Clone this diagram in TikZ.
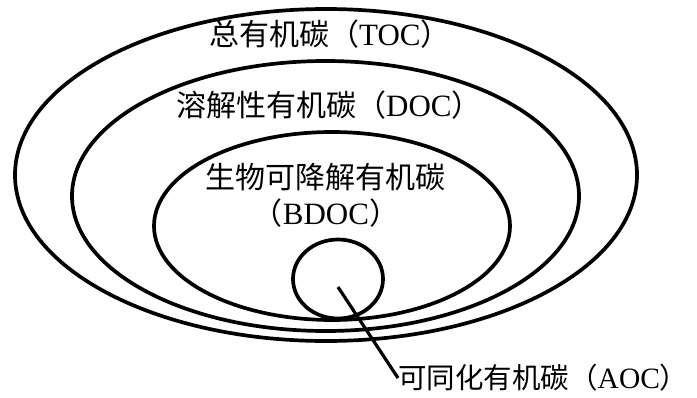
\documentclass[tikz,border=0pt]{standalone}
\usepackage{fontspec}
\setmainfont{Liberation Serif}
\newfontfamily\cjk{Noto Sans CJK SC}
\usetikzlibrary{shapes.geometric}
\tikzset{
  ring/.style={ellipse, draw, line width=3.7pt, inner sep=0pt},
  lbl/.style={inner sep=0pt, font=\fontsize{30}{33}\selectfont},
}
\newcommand{\lat}[1]{{\fontsize{31}{33}\selectfont #1}}
\newcommand{\latsmall}[1]{{\fontsize{29.5}{33}\selectfont #1}}
\begin{document}
\begin{tikzpicture}[x=1pt,y=-1pt]
\useasboundingbox (0,0) rectangle (697,397);
\node[ring, minimum width=622pt, minimum height=332pt] (toc) at (326,175) {};
\node[ring, minimum width=507pt, minimum height=270pt] (doc) at (325.5,196) {};
\node[ring, minimum width=356pt, minimum height=188pt] (bdoc) at (332,226) {};
\node[ring, minimum width=90pt, minimum height=79pt] (aocring) at (338,279) {};
\node[lbl, anchor=west] (toclbl) at (209,34) {{\cjk 总有机碳（}\lat{TOC}{\cjk ）}};
\node[lbl, anchor=west] (doclbl) at (176,105.5) {{\cjk 溶解性有机碳（}\lat{DOC}{\cjk ）}};
\node[lbl] (bdoclbl1) at (325,177) {\cjk 生物可降解有机碳};
\node[lbl] (bdoclbl2) at (326,213) {{\cjk （}\lat{BDOC}{\cjk ）}};
\node[lbl, anchor=west, font=\fontsize{28.5}{32}\selectfont] (aoclbl) at (398,378) {{\cjk 可同化有机碳（}\latsmall{AOC}{\cjk ）}};
\coordinate (aocstart) at (338,287);
\draw[line width=3.2pt] (aocstart) -- (aoclbl.west);
\end{tikzpicture}
\end{document}
